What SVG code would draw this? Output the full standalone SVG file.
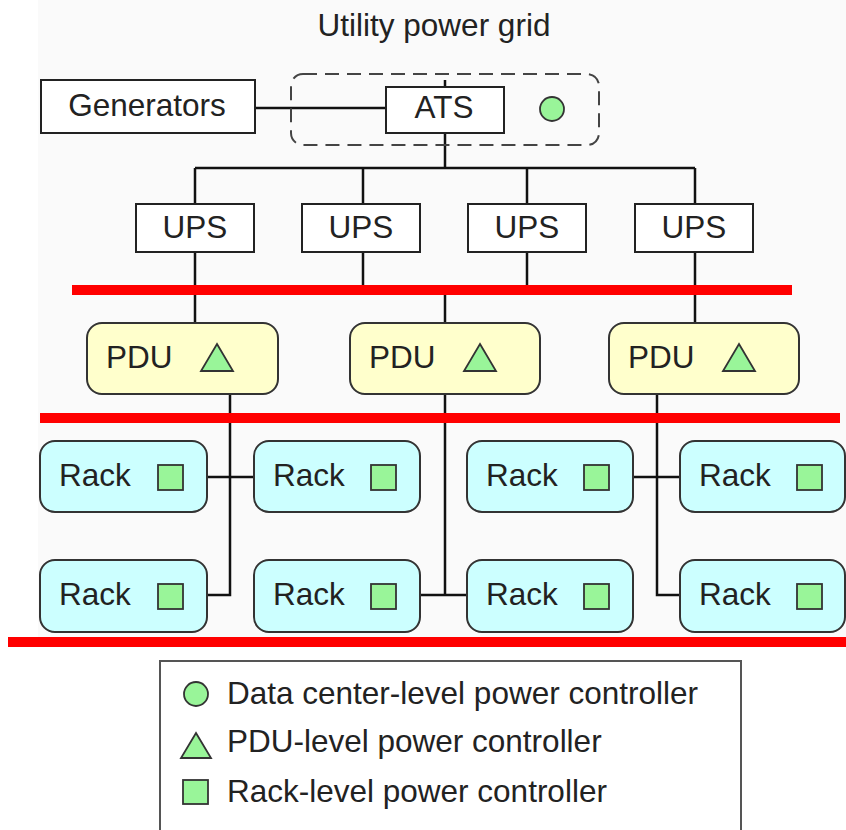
<svg xmlns="http://www.w3.org/2000/svg" width="846" height="830" viewBox="0 0 846 830">
<style>
text{font-family:"Liberation Sans",Arial,sans-serif;font-size:31.5px;fill:#222}
.box{fill:#fff;stroke:#222;stroke-width:2}
.pdu{fill:#ffffcc;stroke:#333;stroke-width:2}
.rack{fill:#ccffff;stroke:#333;stroke-width:2}
.ctl{fill:#99f599;stroke:#333;stroke-width:1.8}
.wire{fill:none;stroke:#111;stroke-width:2.5}
.red{stroke:#ff0000;stroke-width:10}
</style>
<rect x="0" y="0" width="846" height="830" fill="#ffffff"/>
<rect x="38" y="0" width="808" height="638" fill="#fafafa"/>
<text x="434" y="36" text-anchor="middle">Utility power grid</text>
<g id="connectors">
<path class="wire" d="M445 80V87M445 133V168M195 168H695M195 168V204M363 168V204M527 168V204M695 168V204"/>
<path class="wire" d="M255 108H386"/>
<path class="wire" d="M195 252V323M363 252V290M527 252V290M695 252V323M445 290V323"/>
<path class="wire" d="M230 394V595H207M207 477H254"/>
<path class="wire" d="M445 394V595M420 595H467"/>
<path class="wire" d="M657 394V595H680M633 477H680"/>
</g>
<g id="dc-controller-group">
<rect x="291" y="74" width="308" height="71" rx="12" fill="none" stroke="#444" stroke-width="2" stroke-dasharray="14 8"/>
</g>
<g id="generators"><rect class="box" x="41" y="80" width="214" height="53"/><text x="147" y="116" text-anchor="middle">Generators</text></g>
<g id="ats"><rect class="box" x="386" y="87" width="118" height="46"/><text x="444" y="118" text-anchor="middle">ATS</text></g>
<g id="dc-controller"><circle class="ctl" cx="552" cy="109" r="12"/></g>
<g id="ups1"><rect class="box" x="136" y="204" width="118" height="48"/><text x="195" y="238" text-anchor="middle">UPS</text></g>
<g id="ups2"><rect class="box" x="302" y="204" width="118" height="48"/><text x="361" y="238" text-anchor="middle">UPS</text></g>
<g id="ups3"><rect class="box" x="468" y="204" width="118" height="48"/><text x="527" y="238" text-anchor="middle">UPS</text></g>
<g id="ups4"><rect class="box" x="635" y="204" width="118" height="48"/><text x="694" y="238" text-anchor="middle">UPS</text></g>
<line class="red" x1="72" y1="290" x2="792" y2="290"/>
<g id="pdu1"><rect class="pdu" x="87" y="323" width="191" height="71" rx="15"/><text x="106" y="368">PDU</text><polygon class="ctl" points="217,344 233,371 201,371"/></g>
<g id="pdu2"><rect class="pdu" x="350" y="323" width="190" height="71" rx="15"/><text x="369" y="368">PDU</text><polygon class="ctl" points="480,344 496,371 464,371"/></g>
<g id="pdu3"><rect class="pdu" x="609" y="323" width="190" height="71" rx="15"/><text x="628" y="368">PDU</text><polygon class="ctl" points="739,344 755,371 723,371"/></g>
<line class="red" x1="40" y1="418" x2="840" y2="418"/>
<g id="rack1"><rect class="rack" x="40" y="441" width="167" height="71" rx="15"/><text x="59" y="486">Rack</text><rect class="ctl" x="158" y="465" width="25" height="25"/></g>
<g id="rack2"><rect class="rack" x="254" y="441" width="166" height="71" rx="15"/><text x="273" y="486">Rack</text><rect class="ctl" x="371" y="465" width="25" height="25"/></g>
<g id="rack3"><rect class="rack" x="467" y="441" width="166" height="71" rx="15"/><text x="486" y="486">Rack</text><rect class="ctl" x="584" y="465" width="25" height="25"/></g>
<g id="rack4"><rect class="rack" x="680" y="441" width="165" height="71" rx="15"/><text x="699" y="486">Rack</text><rect class="ctl" x="797" y="465" width="25" height="25"/></g>
<g id="rack5"><rect class="rack" x="40" y="560" width="167" height="72" rx="15"/><text x="59" y="605">Rack</text><rect class="ctl" x="158" y="584" width="25" height="25"/></g>
<g id="rack6"><rect class="rack" x="254" y="560" width="166" height="72" rx="15"/><text x="273" y="605">Rack</text><rect class="ctl" x="371" y="584" width="25" height="25"/></g>
<g id="rack7"><rect class="rack" x="467" y="560" width="166" height="72" rx="15"/><text x="486" y="605">Rack</text><rect class="ctl" x="584" y="584" width="25" height="25"/></g>
<g id="rack8"><rect class="rack" x="680" y="560" width="165" height="72" rx="15"/><text x="699" y="605">Rack</text><rect class="ctl" x="797" y="584" width="25" height="25"/></g>
<line class="red" x1="8" y1="642" x2="846" y2="642"/>
<g id="legend">
<rect x="160" y="661" width="581" height="180" fill="#fff" stroke="#555" stroke-width="2"/>
<circle class="ctl" cx="196" cy="694" r="12"/>
<text x="227" y="704">Data center-level power controller</text>
<polygon class="ctl" points="196,733 211,758 181,758"/>
<text x="227" y="752">PDU-level power controller</text>
<rect class="ctl" x="183" y="780" width="25" height="24"/>
<text x="227" y="802">Rack-level power controller</text>
</g>
</svg>
